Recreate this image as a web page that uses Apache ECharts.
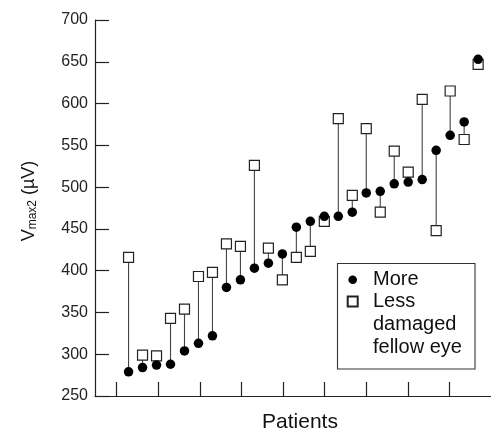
<!DOCTYPE html>
<html>
<head>
<meta charset="utf-8">
<script src="https://cdn.jsdelivr.net/npm/echarts@6/dist/echarts.min.js"></script>
<style>html,body{margin:0;padding:0;background:#fff;}#c{width:491px;height:431px;}</style>
</head>
<body>
<div id="c"></div>
<script>
// Patients (index along x)
const patients = [1,2,3,4,5,6,7,8,9,10,11,12,13,14,15,16,17,18,19,20,21,22,23,24,25,26];
// Vmax2 (µV) of the more damaged eye
const moreDamaged = [279,284,287,288,304,313,322,380,389,403,409,420,452,459,465,465,470,493,495,504,506,509,544,562,578,653];
// Vmax2 (µV) of the less damaged fellow eye
const lessDamaged = [416,299,298,343,354,393,398,432,429,526,427,389,416,423,459,582,490,570,470,543,518,605,448,615,557,647];
// y tick range
const yMin = 250, yMax = 700, yStep = 50;
// x tick positions (unlabelled)
const xTicks = [0.15,3.125,6.1,9.075,12.05,15.025,18.0,20.975,23.95];

const FONT = '"Liberation Sans", Arial, Helvetica, sans-serif';
const chart = echarts.init(document.getElementById('c'), null, {renderer: 'canvas'});

const pairs = patients.map((p, i) => [p, moreDamaged[i], lessDamaged[i]]);
const moreData = patients.map((p, i) => [p, moreDamaged[i]]);
const lessData = patients.map((p, i) => [p, lessDamaged[i]]);

chart.setOption({
  animation: false,
  backgroundColor: '#fff',
  textStyle: {fontFamily: FONT},
  grid: {left: 95, right: 0, top: 20, bottom: 35, containLabel: false, outerBoundsMode: 'none'},
  xAxis: {
    type: 'value', min: -1.4, max: 26.92,
    name: 'Patients', nameLocation: 'middle', nameGap: 16,
    nameTextStyle: {fontSize: 21, color: '#111', fontFamily: FONT, padding: [0, 0, 0, 14]},
    axisLine: {show: true, onZero: false, lineStyle: {color: '#222', width: 1.2}},
    axisTick: {show: true, inside: true, length: 14, customValues: xTicks, lineStyle: {color: '#222', width: 1.2}},
    axisLabel: {show: false},
    splitLine: {show: false}
  },
  yAxis: {
    type: 'value', min: yMin, max: yMax, interval: yStep,
    name: '{v|V}{s|max2}{v| (µV)}', nameLocation: 'middle', nameRotate: 90, nameGap: 56,
    nameTextStyle: {
      color: '#111', padding: [0, 0, 0, 14],
      rich: {
        v: {fontSize: 18, fontFamily: FONT, color: '#111'},
        s: {fontSize: 12, fontFamily: FONT, color: '#111', padding: [8, 0, 0, 0]}
      }
    },
    axisLine: {show: true, onZero: false, lineStyle: {color: '#222', width: 1.2}},
    axisTick: {show: true, inside: true, length: 14, lineStyle: {color: '#222', width: 1.2}},
    axisLabel: {fontSize: 16, color: '#222', margin: 7, fontFamily: FONT},
    splitLine: {show: false}
  },
  legend: {
    orient: 'vertical', left: 346.7, top: 244, padding: 0,
    itemWidth: 10, itemHeight: 10, itemGap: -47.2,
    symbolKeepAspect: true,
    selectedMode: false,
    textStyle: {fontSize: 20, lineHeight: 23, color: '#111', fontFamily: FONT, padding: [0, 0, 0, 10.3]},
    formatter: function (name) {
      return name === 'More' ? 'More' : '\n\nLess\ndamaged\nfellow eye';
    },
    data: [
      {name: 'More', itemStyle: {borderColor: '#fff', borderWidth: 1.4}},
      {name: 'Less damaged fellow eye'}
    ]
  },
  graphic: [{
    type: 'rect', left: 335, top: 261, z: 0,
    shape: {width: 137.5, height: 105.5},
    style: {fill: 'none', stroke: '#333', lineWidth: 1.1}
  }],
  series: [
    {
      type: 'custom', name: 'pairs', data: pairs, z: 1,
      encode: {x: 0, y: [1, 2]},
      renderItem: function (params, api) {
        const a = api.coord([api.value(0), api.value(1)]);
        const b = api.coord([api.value(0), api.value(2)]);
        return {type: 'line', shape: {x1: a[0], y1: a[1], x2: b[0], y2: b[1]},
                style: {stroke: '#444', lineWidth: 1.1}};
      }
    },
    {
      type: 'scatter', name: 'Less damaged fellow eye', data: lessData, z: 2,
      symbol: 'rect', symbolSize: 10,
      itemStyle: {color: '#fff', borderColor: '#222', borderWidth: 1.2, opacity: 1}
    },
    {
      type: 'scatter', name: 'More', data: moreData, z: 3,
      symbol: 'circle', symbolSize: 9.5,
      itemStyle: {color: '#000', opacity: 1}
    }
  ]
});
</script>
</body>
</html>
